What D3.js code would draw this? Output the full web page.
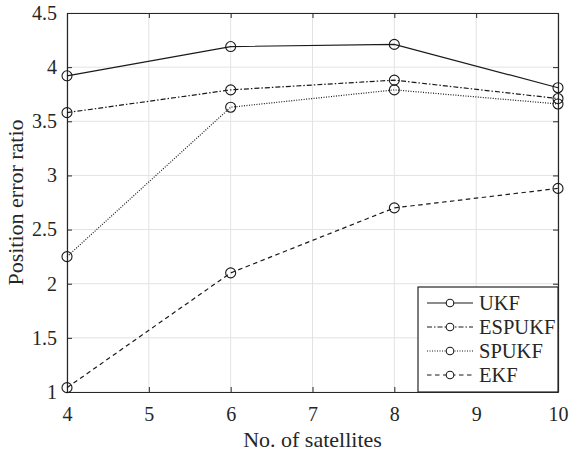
<!DOCTYPE html>
<html>
<head>
<meta charset="utf-8">
<script src="https://cdn.jsdelivr.net/npm/d3@7"></script>
<style>
  body { margin: 0; background: #fff; }
</style>
</head>
<body>
<svg id="chart" width="571" height="454"></svg>
<script>
const satellites = [4, 6, 8, 10];
const ukf = [3.92, 4.19, 4.21, 3.81];
const espukf = [3.58, 3.79, 3.88, 3.71];
const spukf = [2.25, 3.63, 3.79, 3.66];
const ekf = [1.04, 2.10, 2.70, 2.88];
const xTicks = [4, 5, 6, 7, 8, 9, 10];
const yTicks = [1, 1.5, 2, 2.5, 3, 3.5, 4, 4.5];

const series = [
  { name: "UKF", values: ukf, dash: null },
  { name: "ESPUKF", values: espukf, dash: "5,2,1.5,2" },
  { name: "SPUKF", values: spukf, dash: "1,1.5" },
  { name: "EKF", values: ekf, dash: "4.5,3.5" }
];

const w = 571, h = 454;
const m = { l: 67, r: 13, t: 13, b: 62 };
const axcol = "#262626";
const serif = "Liberation Serif";

const svg = d3.select("#chart");

const x = d3.scaleLinear().domain([4, 10]).range([m.l, w - m.r]);
const y = d3.scaleLinear().domain([1, 4.5]).range([h - m.b, m.t]);

// grid
svg.append("g").selectAll("line").data(xTicks).join("line")
  .attr("x1", d => x(d)).attr("x2", d => x(d))
  .attr("y1", y(1)).attr("y2", y(4.5))
  .attr("stroke", "#e3e3e3").attr("stroke-width", 1);
svg.append("g").selectAll("line").data(yTicks).join("line")
  .attr("y1", d => y(d)).attr("y2", d => y(d))
  .attr("x1", x(4)).attr("x2", x(10))
  .attr("stroke", "#e3e3e3").attr("stroke-width", 1);

// axes (ticks inward)
const fmt = d => String(d);
const xb = svg.append("g").attr("transform", `translate(0,${y(1)})`)
  .call(d3.axisBottom(x).tickValues(xTicks).tickFormat(fmt).tickSizeInner(-5).tickSizeOuter(0).tickPadding(15));
const xt = svg.append("g").attr("transform", `translate(0,${y(4.5)})`)
  .call(d3.axisTop(x).tickValues(xTicks).tickFormat("").tickSizeInner(-5).tickSizeOuter(0));
const yl = svg.append("g").attr("transform", `translate(${x(4)},0)`)
  .call(d3.axisLeft(y).tickValues(yTicks).tickFormat(fmt).tickSizeInner(-5).tickSizeOuter(0).tickPadding(10));
const yr = svg.append("g").attr("transform", `translate(${x(10)},0)`)
  .call(d3.axisRight(y).tickValues(yTicks).tickFormat("").tickSizeInner(-5).tickSizeOuter(0));

[xb, xt, yl, yr].forEach(g => {
  g.attr("font-family", serif).attr("font-size", 20);
  g.select(".domain").attr("stroke", axcol).attr("stroke-width", 1.2);
  g.selectAll(".tick line").attr("stroke", axcol);
  g.selectAll("text").attr("font-family", serif).attr("fill", axcol);
});

// lines
const line = d3.line().x((d, i) => x(satellites[i])).y(d => y(d));
series.forEach(s => {
  svg.append("path").datum(s.values)
    .attr("d", line)
    .attr("fill", "none")
    .attr("stroke", "#1a1a1a")
    .attr("stroke-width", 1.2)
    .attr("stroke-dasharray", s.dash);
  svg.append("g").selectAll("circle").data(s.values).join("circle")
    .attr("cx", (d, i) => x(satellites[i])).attr("cy", d => y(d))
    .attr("r", 5)
    .attr("fill", "none").attr("stroke", "#1a1a1a").attr("stroke-width", 1.1);
});

// axis titles
svg.append("text")
  .attr("x", (x(4) + x(10)) / 2).attr("y", 447)
  .attr("text-anchor", "middle")
  .attr("font-size", 22).attr("font-family", serif).attr("fill", axcol)
  .text("No. of satellites");
svg.append("text")
  .attr("transform", `translate(23,${(y(1) + y(4.5)) / 2}) rotate(-90)`)
  .attr("text-anchor", "middle")
  .attr("font-size", 22).attr("font-family", serif).attr("fill", axcol)
  .text("Position error ratio");

// legend
const lg = svg.append("g");
const lx = 418, ly = 287, lw = x(10) - 418, lh = y(1) - 287;
lg.append("rect").attr("x", lx).attr("y", ly).attr("width", lw).attr("height", lh)
  .attr("fill", "#fff").attr("stroke", axcol).attr("stroke-width", 1.2);
series.forEach((s, i) => {
  const cy = 303 + i * 24;
  lg.append("line").attr("x1", 427).attr("x2", 473).attr("y1", cy).attr("y2", cy)
    .attr("stroke", "#1a1a1a").attr("stroke-width", 1.2).attr("stroke-dasharray", s.dash);
  lg.append("circle").attr("cx", 450).attr("cy", cy).attr("r", 3.8)
    .attr("fill", "#fff").attr("stroke", "#1a1a1a").attr("stroke-width", 1.1);
  lg.append("text").attr("x", 479).attr("y", cy + 7)
    .attr("font-size", 20.5).attr("font-family", serif).attr("fill", axcol)
    .text(s.name);
});
</script>
</body>
</html>
